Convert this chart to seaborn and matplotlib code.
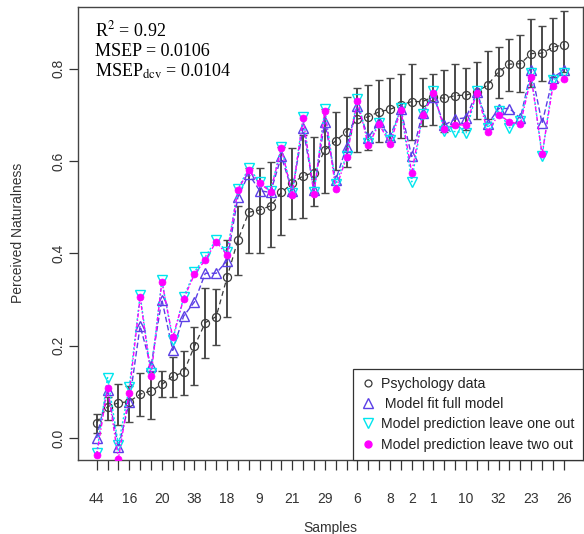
import numpy as np
import pandas as pd
import matplotlib
matplotlib.use("Agg")
import matplotlib.pyplot as plt
import seaborn as sns
from matplotlib.lines import Line2D

# ---------------- data ----------------
sample_pos = list(range(44))
tick_idx = [0, 3, 6, 9, 12, 15, 18, 21, 24, 27, 29, 31, 34, 37, 40, 43]
tick_labels = ["44", "16", "20", "38", "18", "9", "21", "29", "6", "8", "2", "1",
               "10", "32", "23", "26"]

psych = [0.033, 0.068, 0.076, 0.079, 0.095, 0.102, 0.116, 0.134, 0.142, 0.199,
         0.250, 0.263, 0.348, 0.429, 0.489, 0.494, 0.503, 0.532, 0.552, 0.568,
         0.575, 0.624, 0.644, 0.664, 0.691, 0.696, 0.707, 0.712, 0.722, 0.729,
         0.729, 0.740, 0.736, 0.742, 0.743, 0.750, 0.765, 0.794, 0.810, 0.811,
         0.833, 0.834, 0.847, 0.852]
psych_lo = [0.011, 0.040, 0.028, 0.035, 0.048, 0.041, 0.089, 0.089, 0.093, 0.115,
            0.174, 0.201, 0.263, 0.353, 0.400, 0.400, 0.413, 0.440, 0.475, 0.476,
            0.503, 0.530, 0.581, 0.587, 0.620, 0.625, 0.642, 0.646, 0.649, 0.646,
            0.676, 0.678, 0.664, 0.675, 0.667, 0.691, 0.691, 0.737, 0.752, 0.749,
            0.761, 0.774, 0.783, 0.794]
psych_hi = [0.052, 0.089, 0.117, 0.113, 0.141, 0.142, 0.146, 0.176, 0.188, 0.241,
            0.324, 0.322, 0.429, 0.503, 0.584, 0.584, 0.597, 0.630, 0.629, 0.657,
            0.652, 0.714, 0.707, 0.740, 0.758, 0.765, 0.776, 0.781, 0.788, 0.810,
            0.781, 0.788, 0.797, 0.810, 0.801, 0.814, 0.839, 0.848, 0.865, 0.873,
            0.909, 0.893, 0.911, 0.925]
model_fit = [0.000, 0.104, -0.020, 0.077, 0.243, 0.155, 0.300, 0.190, 0.264, 0.295,
             0.357, 0.357, 0.384, 0.522, 0.572, 0.536, 0.532, 0.610, 0.535, 0.671,
             0.537, 0.685, 0.559, 0.631, 0.719, 0.651, 0.685, 0.653, 0.712, 0.610,
             0.705, 0.740, 0.678, 0.691, 0.694, 0.750, 0.680, 0.714, 0.714, 0.693,
             0.797, 0.682, 0.781, 0.797]
leave_one = [-0.033, 0.131, -0.015, 0.110, 0.310, 0.140, 0.342, 0.212, 0.305, 0.360,
             0.393, 0.430, 0.402, 0.540, 0.585, 0.555, 0.536, 0.630, 0.530, 0.695,
             0.532, 0.712, 0.550, 0.612, 0.735, 0.640, 0.683, 0.645, 0.715, 0.555,
             0.703, 0.752, 0.665, 0.664, 0.661, 0.752, 0.672, 0.708, 0.672, 0.686,
             0.790, 0.610, 0.776, 0.790]
leave_two = [-0.037, 0.108, -0.045, 0.098, 0.305, 0.134, 0.339, 0.218, 0.301, 0.355,
             0.386, 0.425, 0.397, 0.537, 0.581, 0.552, 0.534, 0.628, 0.527, 0.693,
             0.529, 0.709, 0.539, 0.608, 0.731, 0.635, 0.680, 0.638, 0.711, 0.575,
             0.700, 0.748, 0.670, 0.679, 0.678, 0.748, 0.664, 0.701, 0.685, 0.680,
             0.782, 0.615, 0.763, 0.778]

series_labels = ["Psychology data", " Model fit full model",
                 "Model prediction leave one out", "Model prediction leave two out"]

# ---------------- styling ----------------
sns.set_theme(style="white")
plt.rcParams["font.family"] = ["Liberation Sans", "DejaVu Sans"]
plt.rcParams["mathtext.fontset"] = "stix"

c_psy = "#3a3a3a"
c_fit = "#5b3fe6"
c_loo = "#00e5ee"
c_lto = "#ff00ff"

df = pd.DataFrame({"x": sample_pos, "psych": psych, "lo": psych_lo, "hi": psych_hi,
                   "fit": model_fit, "loo": leave_one, "lto": leave_two})

fig = plt.figure(figsize=(5.84, 5.34), dpi=100)
ax = fig.add_axes([78 / 584, 1 - 459.5 / 534, (582.5 - 78) / 584, (459.5 - 6.7) / 534])

# error bars
ax.errorbar(df["x"], df["psych"], yerr=[df["psych"] - df["lo"], df["hi"] - df["psych"]],
            fmt="none", ecolor="#4a4a4a", elinewidth=1.4, capsize=2.6, capthick=1.0,
            zorder=2)

sns.lineplot(data=df, x="x", y="psych", ax=ax, color=c_psy, lw=0.9,
             linestyle=(0, (4, 3)), marker="o", markersize=5.8,
             markerfacecolor="none", markeredgecolor=c_psy, markeredgewidth=0.9,
             zorder=3)
sns.lineplot(data=df, x="x", y="fit", ax=ax, color=c_fit, lw=1.0,
             linestyle=(0, (4, 2)), marker="^", markersize=7,
             markerfacecolor="none", markeredgecolor=c_fit, markeredgewidth=1.0,
             zorder=4)
sns.lineplot(data=df, x="x", y="loo", ax=ax, color=c_loo, lw=1.0,
             linestyle=(0, (1.5, 1.5)), marker="v", markersize=7,
             markerfacecolor="none", markeredgecolor=c_loo, markeredgewidth=1.0,
             zorder=5)
sns.lineplot(data=df, x="x", y="lto", ax=ax, color=c_lto, lw=1.0,
             linestyle=(0, (3, 1.5, 1, 1.5)), marker="o", markersize=5,
             markerfacecolor=c_lto, markeredgecolor=c_lto, markeredgewidth=0.5,
             zorder=6)

ax.set_xlim(-1.72, 44.72)
ax.set_ylim(-0.0466, 0.9346)

ax.set_xticks(sample_pos)
xt = ["" for _ in sample_pos]
for i, lab in zip(tick_idx, tick_labels):
    xt[i] = lab
ax.set_xticklabels(xt)
ax.set_yticks([0.0, 0.2, 0.4, 0.6, 0.8])
ax.set_yticklabels(["0.0", "0.2", "0.4", "0.6", "0.8"], rotation=90, va="center")

ax.tick_params(axis="x", length=7.5, width=0.9, color="#333333", pad=16,
               labelsize=10, labelcolor="#333333", bottom=True)
ax.tick_params(axis="y", length=6.3, width=0.9, color="#333333", pad=3,
               labelsize=10, labelcolor="#333333", left=True)

for sp in ax.spines.values():
    sp.set_color("#444444")
    sp.set_linewidth(1.0)

ax.set_xlabel("Samples", fontsize=10, color="#333333", labelpad=11)
ax.set_ylabel("Perceived Naturalness", fontsize=10, color="#333333", labelpad=19)

# annotation
tfont = dict(family=["Liberation Serif", "DejaVu Serif"], fontsize=13, color="black",
             transform=ax.transAxes, ha="left", va="baseline")
ax.text(0.034, 0.9353, r"R$^2$ = 0.92", **tfont)
ax.text(0.034, 0.8911, "MSEP = 0.0106", **tfont)
ax.text(0.034, 0.8447, r"MSEP$_{\mathrm{dcv}}$ = 0.0104", **tfont)

handles = [
    Line2D([], [], linestyle="none", marker="o", markersize=5, markerfacecolor="none",
           markeredgecolor=c_psy, markeredgewidth=0.9),
    Line2D([], [], linestyle="none", marker="^", markersize=7, markerfacecolor="none",
           markeredgecolor=c_fit, markeredgewidth=1.0),
    Line2D([], [], linestyle="none", marker="v", markersize=7, markerfacecolor="none",
           markeredgecolor=c_loo, markeredgewidth=1.0),
    Line2D([], [], linestyle="none", marker="o", markersize=5, markerfacecolor=c_lto,
           markeredgecolor=c_lto),
]
leg = ax.legend(handles, series_labels, loc="lower right", bbox_to_anchor=(1, 0),
                borderaxespad=0, frameon=True, fancybox=False, fontsize=10.2,
                handlelength=1.0, handletextpad=0.45, labelspacing=0.45,
                borderpad=0.55, framealpha=1)
leg.get_frame().set_edgecolor("#333333")
leg.get_frame().set_linewidth(0.9)
for t in leg.get_texts():
    t.set_color("#222222")

fig.savefig("out.png", dpi=100)
